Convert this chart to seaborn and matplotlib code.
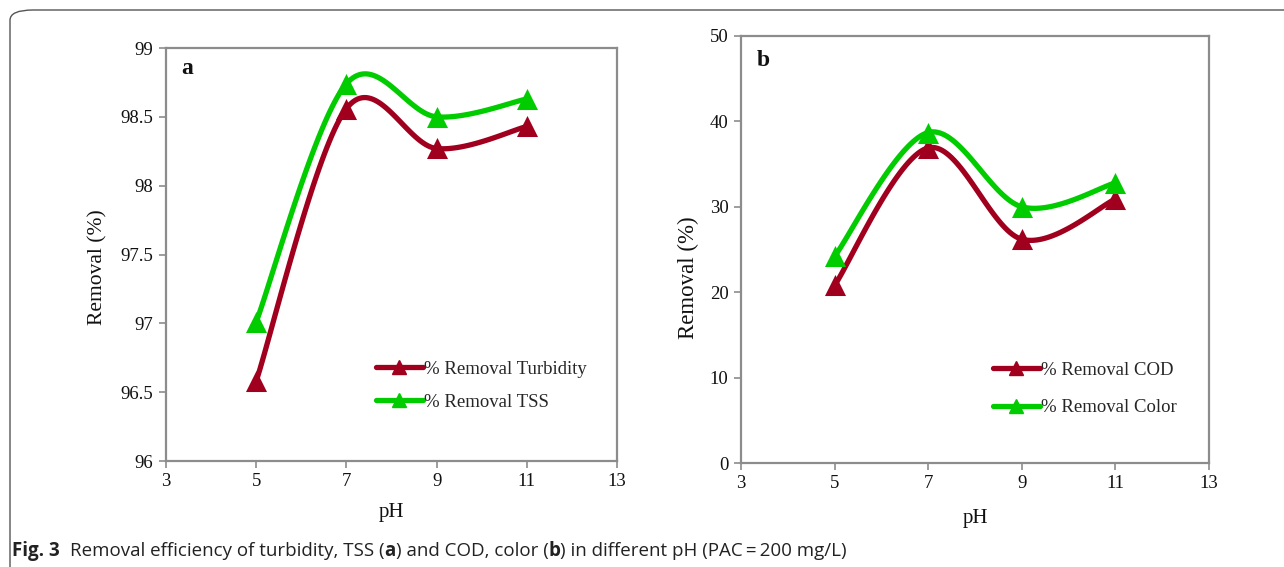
import numpy as np
import pandas as pd
import matplotlib
matplotlib.use("Agg")
import matplotlib.pyplot as plt
import seaborn as sns
from matplotlib.lines import Line2D
from matplotlib.patches import FancyBboxPatch
from matplotlib.ticker import FuncFormatter

# ---- data ----
ph = [5, 7, 9, 11]
turbidity = [96.58, 98.56, 98.27, 98.43]
tss = [97.01, 98.74, 98.50, 98.63]
cod = [20.8, 36.9, 26.2, 30.9]
color_rem = [24.2, 38.7, 30.0, 32.8]
xticks = [3, 5, 7, 9, 11, 13]
yticks_a = [96, 96.5, 97, 97.5, 98, 98.5, 99]
yticks_b = [0, 10, 20, 30, 40, 50]

DARKRED = "#A0001E"
GREEN = "#00CC00"
SPINE = "#8C8C8C"

sns.set_theme(style="white")
plt.rcParams["font.family"] = ["Liberation Serif", "DejaVu Serif"]


def smooth(x, y, n=40):
    """Excel-like smoothed curve (Catmull-Rom via cubic Bezier)."""
    x = np.asarray(x, float)
    y = np.asarray(y, float)
    P = np.column_stack([x, y])
    pts = []
    for i in range(len(P) - 1):
        p0 = P[i - 1] if i > 0 else P[i]
        p1 = P[i]
        p2 = P[i + 1]
        p3 = P[i + 2] if i + 2 < len(P) else P[i + 1]
        c1 = p1 + (p2 - p0) / 6.0
        c2 = p2 - (p3 - p1) / 6.0
        t = np.linspace(0, 1, n, endpoint=(i == len(P) - 2))[:, None]
        b = ((1 - t) ** 3) * p1 + 3 * ((1 - t) ** 2) * t * c1 + 3 * (1 - t) * t ** 2 * c2 + t ** 3 * p2
        pts.append(b)
    pts = np.vstack(pts)
    return pd.DataFrame({"x": pts[:, 0], "y": pts[:, 1]})


fig = plt.figure(figsize=(12.84, 5.67), dpi=100)
W, H = 1284, 567

# outer rounded frame
frame = FancyBboxPatch((10 / W, -0.05), 1.2, 1 - 10 / H + 0.05,
                       boxstyle="round,pad=0,rounding_size=0.018",
                       transform=fig.transFigure, fill=False,
                       edgecolor="#555555", linewidth=1.0, clip_on=False)
fig.patches.append(frame)

ax_a = fig.add_axes([166 / W, 1 - 461 / H, (617 - 166) / W, (461 - 48) / H])
ax_b = fig.add_axes([741 / W, 1 - 463 / H, (1209 - 741) / W, (463 - 36) / H])


def draw(ax, s1, s2, lab1, lab2, yticks, legend_xy, lspace, labsize):
    for vals, col in ((s1, DARKRED), (s2, GREEN)):
        sm = smooth(ph, vals)
        sns.lineplot(data=sm, x="x", y="y", ax=ax, color=col, linewidth=3.8,
                     sort=False, estimator=None, solid_capstyle="round")
        sns.scatterplot(x=ph, y=vals, ax=ax, color=col, marker="^", s=230,
                        edgecolor=col, linewidth=0, zorder=5)
    ax.set_xlim(3, 13)
    ax.set_ylim(yticks[0], yticks[-1])
    ax.set_xticks(xticks)
    ax.set_yticks(yticks)
    ax.yaxis.set_major_formatter(FuncFormatter(lambda v, p: f"{v:g}"))
    ax.tick_params(axis="both", which="major", direction="out", length=5,
                   width=1.2, color=SPINE, labelsize=13.5, labelcolor="#111111", pad=4)
    ax.tick_params(left=True, bottom=True)
    for sp in ax.spines.values():
        sp.set_visible(True)
        sp.set_color(SPINE)
        sp.set_linewidth(1.6)
    ax.set_xlabel("pH", fontsize=15, color="#111111")
    ax.set_ylabel("Removal (%)", fontsize=labsize, color="#111111")
    handles = [
        Line2D([0], [0], color=DARKRED, linewidth=3.8, marker="^", markersize=10,
               solid_capstyle="round"),
        Line2D([0], [0], color=GREEN, linewidth=3.8, marker="^", markersize=10,
               solid_capstyle="round"),
    ]
    ax.legend(handles, [lab1, lab2], loc="upper left", bbox_to_anchor=legend_xy,
              frameon=False, fontsize=13.5, handlelength=2.55, handletextpad=0.05,
              labelspacing=lspace, borderaxespad=0)
    ax.set_facecolor("white")


draw(ax_a, turbidity, tss, "% Removal Turbidity", "% Removal TSS", yticks_a,
     ((368 - 166) / (617 - 166), (461 - 353) / (461 - 48)), 0.85, 15.5)
draw(ax_b, cod, color_rem, "% Removal COD", "% Removal Color", yticks_b,
     ((985 - 741) / (1209 - 741), (463 - 354) / (463 - 36)), 1.1, 16.5)

fig.text(181 / W, 1 - 68 / H, "a", fontsize=17, fontweight="bold",
         va="center", ha="left", color="#111111")
fig.text(757 / W, 1 - 61 / H, "b", fontsize=17, fontweight="bold",
         va="center", ha="left", color="#111111")

ax_a.yaxis.set_label_coords((98 - 166) / (617 - 166), (461 - 267) / (461 - 48))
ax_b.yaxis.set_label_coords((688 - 741) / (1209 - 741), (463 - 278) / (463 - 36))
ax_a.xaxis.set_label_coords(0.5, (461 - 513) / (461 - 48))
ax_b.xaxis.set_label_coords(0.5, (463 - 518) / (463 - 36))
for a in (ax_a, ax_b):
    a.xaxis.label.set_va("center")
    a.yaxis.label.set_va("center")
    a.yaxis.label.set_ha("center")

# caption (piecewise for mixed weights)
fig.canvas.draw()
renderer = fig.canvas.get_renderer()
CAPFONT = ["Open Sans", "DejaVu Sans"]
fig.text(12 / W, 1 - 551 / H, "Fig. 3", fontsize=13.5, fontweight="bold",
         family=CAPFONT, va="center", ha="left", color="#222222")
cap = [("Removal efficiency of turbidity, TSS (", "normal"), ("a", "bold"),
       (") and COD, color (", "normal"), ("b", "bold"),
       (") in different pH (PAC\u2009=\u2009200 mg/L)", "normal")]
xpos = 70
for txt, wt in cap:
    t = fig.text(xpos / W, 1 - 551 / H, txt, fontsize=13.5, fontweight=wt,
                 family=CAPFONT, va="center", ha="left", color="#222222")
    bb = t.get_window_extent(renderer=renderer)
    xpos += bb.width

fig.savefig("out.png", dpi=100, facecolor="white")
